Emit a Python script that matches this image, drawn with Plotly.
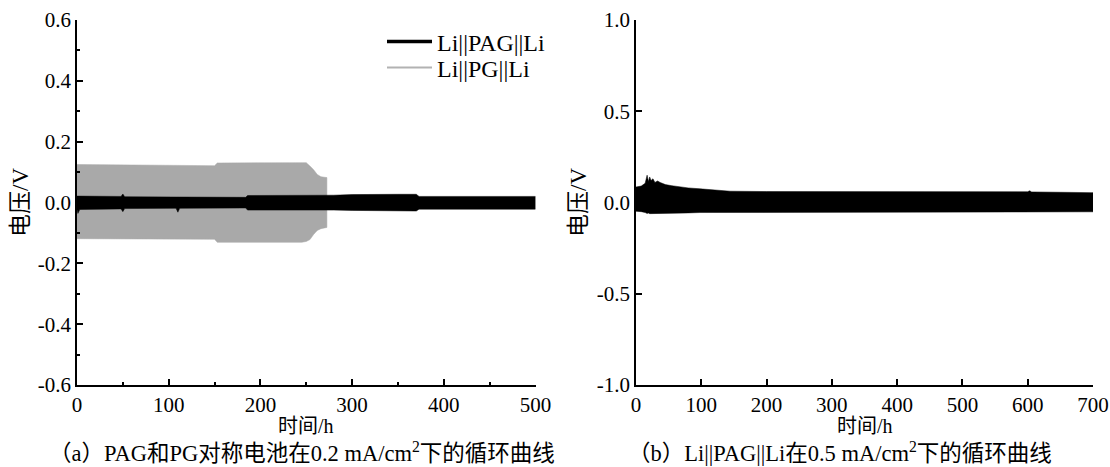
import plotly.graph_objects as go

# ---------------- data ----------------
# (a) Li||PG||Li envelope at 0.2 mA/cm2
pg_t      = [0, 60, 150, 153, 245, 250, 254, 258, 262, 266, 270, 272.5]
pg_top    = [0.125, 0.123, 0.121, 0.130, 0.129, 0.131, 0.120, 0.108, 0.092, 0.085, 0.083, 0.082]
pg_bottom = [-0.119, -0.120, -0.121, -0.131, -0.131, -0.128, -0.122, -0.105, -0.092, -0.086, -0.083, -0.082]

# (a) Li||PAG||Li envelope at 0.2 mA/cm2
pag_a_t      = [0, 1, 3, 48, 50, 52, 108, 110, 112, 184, 186, 280, 300, 350, 370, 373, 500]
pag_a_top    = [0.021, 0.021, 0.020, 0.020, 0.028, 0.019, 0.018, 0.019, 0.018, 0.017, 0.023, 0.024, 0.026, 0.027, 0.027, 0.020, 0.020]
pag_a_bottom = [-0.023, -0.036, -0.023, -0.021, -0.030, -0.020, -0.019, -0.032, -0.019, -0.018, -0.025, -0.025, -0.026, -0.028, -0.028, -0.022, -0.022]

# (b) Li||PAG||Li envelope at 0.5 mA/cm2
pag_b_t      = [0, 8, 14, 17, 19, 21, 23, 26, 29, 33, 37, 45, 55, 67, 80, 98, 120, 144, 200, 300, 400, 500, 600, 603, 606, 650, 700]
pag_b_top    = [0.085, 0.090, 0.105, 0.150, 0.115, 0.140, 0.120, 0.130, 0.110, 0.118, 0.110, 0.098, 0.092, 0.086, 0.080, 0.075, 0.068, 0.062, 0.060, 0.059, 0.059, 0.059, 0.059, 0.064, 0.058, 0.056, 0.054]
pag_b_bottom = [-0.048, -0.050, -0.055, -0.060, -0.058, -0.061, -0.060, -0.062, -0.062, -0.062, -0.062, -0.062, -0.060, -0.058, -0.057, -0.055, -0.054, -0.053, -0.053, -0.052, -0.052, -0.052, -0.052, -0.052, -0.052, -0.051, -0.051]

left_xticks  = [0, 100, 200, 300, 400, 500]
left_yticks  = [-0.6, -0.4, -0.2, 0.0, 0.2, 0.4, 0.6]
left_ylabels = ["-0.6", "-0.4", "-0.2", "0.0", "0.2", "0.4", "0.6"]
right_xticks = [0, 100, 200, 300, 400, 500, 600, 700]
right_yticks  = [-1.0, -0.5, 0.0, 0.5, 1.0]
right_ylabels = ["-1.0", "-0.5", "0.0", "0.5", "1.0"]

legend_names = ["Li||PAG||Li", "Li||PG||Li"]
x_title = "时间/h"
y_title = "电压/V"
caption_a = "（a）PAG和PG对称电池在0.2 mA/cm<sup>2</sup>下的循环曲线"
caption_b = "（b）Li||PAG||Li在0.5 mA/cm<sup>2</sup>下的循环曲线"

# ---------------- figure ----------------
W, H = 1110, 467
FONT = "Liberation Serif, Noto Sans CJK SC"
GRAY = "#a9a9a9"


def band(t, top, bottom, color, xa, ya):
    return go.Scatter(
        x=list(t) + list(t[::-1]), y=list(top) + list(bottom[::-1]),
        fill="toself", fillcolor=color, mode="lines",
        line=dict(color=color, width=0.5), showlegend=False,
        hoverinfo="skip", xaxis=xa, yaxis=ya)


fig = go.Figure()
fig.add_trace(band(pg_t, pg_top, pg_bottom, GRAY, "x", "y"))
fig.add_trace(band(pag_a_t, pag_a_top, pag_a_bottom, "black", "x", "y"))
fig.add_trace(band(pag_b_t, pag_b_top, pag_b_bottom, "black", "x2", "y2"))

# legend entries (one legend box per row so the row spacing matches)
fig.add_trace(go.Scatter(x=[None], y=[None], mode="lines", name=legend_names[0],
                         line=dict(color="black", width=3.5), xaxis="x", yaxis="y",
                         legend="legend"))
fig.add_trace(go.Scatter(x=[None], y=[None], mode="lines", name=legend_names[1],
                         line=dict(color="#b2b2b2", width=2), xaxis="x", yaxis="y",
                         legend="legend2"))

dom_a = [77 / W, 535.5 / W]
dom_b = [636 / W, 1093 / W]

common_axis = dict(showline=True, linecolor="black", linewidth=1.5, showgrid=False,
                   zeroline=False, ticks="inside", ticklen=6, tickwidth=1.5,
                   tickcolor="black", mirror=False, automargin=False,
                   tickfont=dict(family=FONT, size=21, color="black"))

plot_h = 365.0
def py(pix):
    return (385 - pix) / plot_h

leg_common = dict(x=382 / W, xanchor="left", yanchor="middle",
                  bgcolor="rgba(0,0,0,0)", font=dict(family=FONT, size=24, color="black"),
                  itemwidth=45, borderwidth=0)

fig.update_layout(
    template="none",
    width=W, height=H,
    margin=dict(l=0, r=0, t=20, b=82, autoexpand=False),
    paper_bgcolor="white", plot_bgcolor="white",
    font=dict(family=FONT, color="black", size=21),
    xaxis=dict(domain=dom_a, range=[0, 500], tickvals=left_xticks, anchor="y",
               minor=dict(ticks="inside", ticklen=3, tickwidth=1.5, dtick=50, tickcolor="black"),
               **common_axis),
    yaxis=dict(domain=[0, 1], range=[-0.6, 0.6], tickvals=left_yticks, ticktext=left_ylabels,
               anchor="x",
               minor=dict(ticks="inside", ticklen=3, tickwidth=1.5, dtick=0.1, tickcolor="black"),
               **common_axis),
    xaxis2=dict(domain=dom_b, range=[0, 700], tickvals=right_xticks, anchor="y2", **common_axis),
    yaxis2=dict(domain=[0, 1], range=[-1.0, 1.0], tickvals=right_yticks, ticktext=right_ylabels,
                anchor="x2", **common_axis),
    legend=dict(y=py(42), **leg_common),
    legend2=dict(y=py(68), **leg_common),
    showlegend=True,
)

ann = []
for xc in [(dom_a[0] + dom_a[1]) / 2, (dom_b[0] + dom_b[1]) / 2]:
    ann.append(dict(text=x_title, x=xc, y=py(426), xref="paper", yref="paper",
                    showarrow=False, xanchor="center", yanchor="middle",
                    font=dict(family=FONT, size=20, color="black")))
for xp in [20 / W, 578 / W]:
    ann.append(dict(text=y_title, x=xp, y=py(203), xref="paper", yref="paper",
                    showarrow=False, textangle=-90, xanchor="center", yanchor="middle",
                    font=dict(family=FONT, size=23, color="black")))
ann.append(dict(text=caption_a, x=302 / W, y=py(452), xref="paper", yref="paper",
                showarrow=False, xanchor="center", yanchor="middle",
                font=dict(family=FONT, size=22.5, color="black")))
ann.append(dict(text=caption_b, x=840 / W, y=py(452), xref="paper", yref="paper",
                showarrow=False, xanchor="center", yanchor="middle",
                font=dict(family=FONT, size=22.5, color="black")))
fig.update_layout(annotations=ann)

fig.write_html("out.html")
